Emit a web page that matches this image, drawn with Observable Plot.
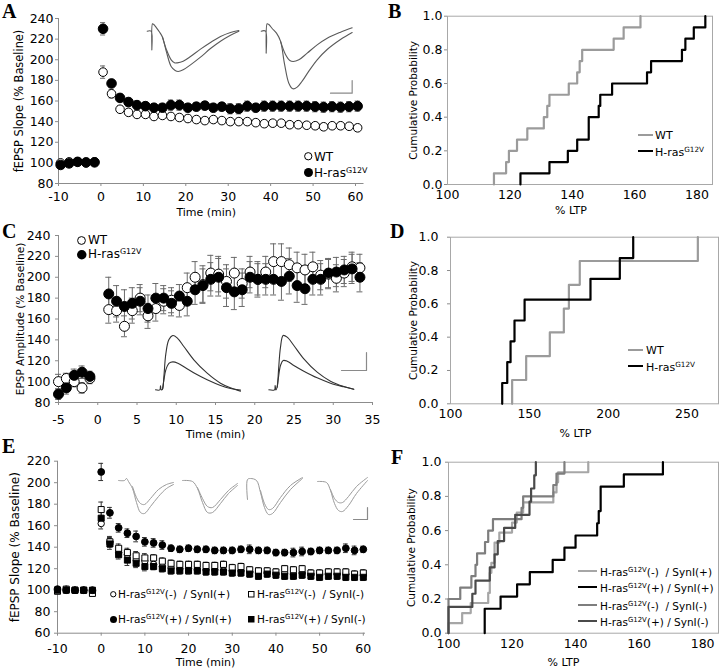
<!DOCTYPE html>
<html><head><meta charset="utf-8">
<script src="https://cdn.jsdelivr.net/npm/d3@7"></script>
<script src="https://cdn.jsdelivr.net/npm/@observablehq/plot@0.6"></script>
<style>
body{margin:0;background:#fff;}
#fig{position:relative;width:720px;height:669px;overflow:hidden;font-family:"DejaVu Sans",sans-serif;color:#000;}
.lt{position:absolute;font-family:"Liberation Serif",serif;font-weight:bold;font-size:20px;line-height:1;}
.lg{position:absolute;white-space:pre;line-height:1;transform:translateY(-50%);}
.lg sup{font-size:0.66em;line-height:0;vertical-align:0.55em;}
svg{overflow:visible;}
</style></head><body><div id="fig"></div><script>
// ---------------- DATA ----------------
// Panel A: fEPSP slope (% baseline) vs time (min)
const aTime = [-9.5,-7.5,-5.5,-3.5,-1.5,0.5,2.5,4.5,6.5,8.5,10.5,12.5,14.5,16.5,18.5,20.5,22.5,24.5,26.5,28.5,30.5,32.5,34.5,36.5,38.5,40.5,42.5,44.5,46.5,48.5,50.5,52.5,54.5,56.5,58.5,60.5];
const aWT = [100,101,101,100,101,188,167,152,149,147,147,145,146,145,144,143,142,141,142,141,140,140,140,139,138,138.5,138.5,137,137,136.5,136,135,136,136,135.5,134];
const aWTerr = [1.5,2,1.5,2,1.5,6,4,3,3,3,3,3,3,3,3,3,3,3,3,3,3,3,3,3,3,3,3,3,3,3,3,3,3,3,3,3];
const aRas = [98,99.5,101,100.5,100.5,230,177,163,159,156,155,153.5,153.5,156,156,153.5,154.5,155.5,153.5,154.5,152.5,152.5,155,153.5,155,155,155,155,155,155,154.5,154,154.5,154,154.5,155];
const aRasErr = [1.5,2,1.5,2,2,6,4,3.5,4,4,4,4,4,5,5,4,4,4,4,4,5,5,5,4,5,5,5,5,5,5,5,5,5,5,5,5];
// Panel B: cumulative distributions of % LTP
const bWT = [114.9,118.8,119.7,122.3,125.6,130.9,132,132.7,138.9,141.6,142.4,143.2,153.3,156.5,161.9];
const bRas = [123.4,132.7,138.6,141.6,145.3,145.3,148.5,149,152.8,164,165.3,175.2,176.3,179,182.7];
// Panel C: EPSP amplitude (% baseline) vs time (min)
const cTime = [-5,-4,-3,-2,-1,1.4,2.4,3.4,4.4,5.4,6.4,7.4,8.4,9.4,10.4,11.4,12.4,13.4,14.4,15.4,16.4,17.4,18.4,19.4,20.4,21.4,22.4,23.4,24.4,25.4,26.4,27.4,28.4,29.4,30.4,31.4,32.4,33.4];
const cWT = [100,103,100,94,103,169,168,153,168,180,163,170,177,178,173,190,200,193,204,203,196,204,194,205,198,205,215,215,212,209,207,210,202,203,199,204,210,209];
const cWTerr = [7,5,5,5,5,13,11,10,12,13,12,12,12,12,11,14,15,18,17,17,16,15,14,15,15,15,17,17,16,15,15,14,14,14,13,13,14,13];
const cRas = [88,94,106,109,105,184,177,172,175,177,170,180,180,175,182,177,188,192,198,200,190,186,188,200,198,198,198,196,201,192,189,198,198,204,205,207,208,200];
const cRasErr = [5,6,6,6,5,16,15,16,15,13,13,14,12,12,11,14,14,16,16,18,18,17,16,15,17,15,15,18,17,16,15,15,15,14,14,13,14,14];
// Panel D
const dWT = [139.1,148,163,171.9,175.1,182,256.9];
const dRas = [132.8,136,138.1,140.6,147,188.8,207.4,215.9];
// Panel E: fEPSP slope (% baseline), four genotypes
const eTime = [-10,-8,-6,-4,-2,0,2,4,6,8,10,12,14,16,18,20,22,24,26,28,30,32,34,36,38,40,42,44,46,48,50,52,54,56,58,60];
const eNegSyn = [100,101,100,100,99,162,145,135,133,128,127,124,122,121,120,120,119,119,119,118,118,118,117,116,116,115,116,115,116,115,115,115,115,115,114,114];
const eNegSynErr = [2,2,2,2,2,5,4,3,3,3,3,3,3,3,3,3,3,3,3,3,3,3,3,3,3,3,3,3,3,3,3,3,3,3,3,3];
const eNegNoSyn = [99,101,100,100,97,175,145,139,135,132,130,130,127,125,124,124,124,123,123,124,121,122,119,118,118,117,120,119,120,116,116,117,117,117,115,116];
const eNegNoSynErr = [2,2,2,2,2,7,5,4,4,4,4,3,3,3,3,3,3,3,3,3,3,3,3,3,3,3,3,3,3,3,3,3,3,3,3,3];
const ePosSyn = [101,100,100,100,100,210,172,158,153,150,145,144,142,139,138,139,138,138,137,137,137,138,138,137,137,135,135,135,136,136,137,137,137,139,137,138];
const ePosSynErr = [2,2,2,2,2,8,5,4,4,5,4,4,4,3,3,3,3,3,3,3,3,3,4,3,3,3,3,4,4,3,3,3,3,4,4,3];
const ePosNoSyn = [100,100,100,100,100,167,143,133,128,125,122,122,120,118,118,118,118,117,117,117,116,116,115,113,115,114,113,113,114,113,112,113,113,112,112,112];
const ePosNoSynErr = [2,2,2,2,2,6,5,4,5,4,4,3,3,3,3,3,3,3,3,3,3,3,3,3,3,3,3,3,3,3,3,3,3,3,3,3];
// Panel F
const fNegSyn = [98,104.3,107,112.5,113,113,113.5,114.5,114.5,116,120,121.5,123.5,133,134,134.5,144];
const fPosSyn = [111.4,111.4,116.4,121.6,125.6,132.8,136.5,140,146.8,147.3,147.9,147.9,155.2,167.5];
const fNegNoSyn = [97,98,99,103.7,107.2,108.5,109,111.5,112.5,114,123,123.5,133,134,136.5];
const fPosNoSyn = [98,99,107.5,108.5,113,114.5,115.5,117.5,121,125.5,126,127,127.5];
// Tick values
const aXTicks = [-10,0,10,20,30,40,50,60], aYTicks = [80,100,120,140,160,180,200,220,240];
const cXTicks = [-5,0,5,10,15,20,25,30,35], cYTicks = [80,100,120,140,160,180,200,220,240];
const eXTicks = [-10,0,10,20,30,40,50,60], eYTicks = [60,80,100,120,140,160,180,200,220];
const pTicks = [0,0.2,0.4,0.6,0.8,1.0];
const bXTicks = [100,120,140,160,180], dXTicks = [100,150,200,250], fXTicks = [100,120,140,160,180];
// Example traces (in crop-reading units)
const aTr1Out = [[20,62],[32,62],[34,118],[36,40],[40,42],[48,52],[58,66],[66,80],[78,125],[92,168],[104,180],[113,183],[128,178],[150,163],[180,140],[210,114],[240,92],[270,74],[295,62]];
const aTr1In = [[66,80],[78,118],[92,148],[102,157],[110,157],[128,152],[150,138],[180,116],[210,96],[240,78],[270,66],[295,60]];
const aTr2Out = [[362,62],[375,62],[377,128],[380,40],[385,42],[395,54],[408,68],[420,92],[432,160],[445,218],[457,235],[470,230],[485,212],[505,182],[530,148],[560,117],[600,87],[635,66]];
const aTr2In = [[420,92],[435,132],[448,150],[458,153],[475,148],[500,128],[530,103],[560,83],[600,65],[635,52]];
const aBar = [[570,248],[635,248],[635,210]];
const cTr1Up = [[45,208],[58,208],[60,196],[62,208],[66,206],[70,170],[76,100],[85,58],[97,45],[110,52],[130,78],[160,118],[200,158],[240,188],[270,202],[300,212]];
const cTr1Lo = [[66,206],[70,180],[76,148],[86,128],[97,124],[112,128],[135,142],[165,160],[200,178],[240,195],[270,204],[300,209]];
const cTr2Up = [[385,208],[402,208],[404,195],[406,208],[410,200],[414,150],[420,80],[428,45],[440,50],[460,75],[490,115],[530,155],[570,182],[610,198],[640,206]];
const cTr2Lo = [[410,200],[414,170],[420,135],[428,120],[440,122],[460,135],[490,152],[530,172],[570,188],[610,199],[640,206]];
const cBar = [[603,150],[678,150],[678,96]];
const eTr1Out = [[118,480],[124,480],[126,478],[128,481],[132,488],[136,502],[140,512],[144,513],[150,506],[158,496],[166,488],[173,484]];
const eTr1In = [[132,486],[136,497],[140,503],[144,504],[150,498],[158,489],[166,484],[173,482]];
const eTr2Out = [[182,480],[192,481],[197,488],[202,502],[207,512],[212,512],[220,503],[228,493],[237,485]];
const eTr2In = [[197,487],[202,498],[207,506],[212,507],[220,499],[228,490],[237,483]];
const eTr3Out = [[247,499],[247,479],[250,478],[256,480],[260,492],[264,507],[268,514],[272,513],[280,502],[290,489],[302,478]];
const eTr3In = [[260,490],[264,503],[268,509],[272,508],[280,497],[290,485],[302,477]];
const eTr4Out = [[317,481],[326,482],[330,490],[334,503],[338,510],[342,511],[348,505],[356,493],[367,480]];
const eTr4In = [[330,489],[334,498],[338,502],[342,502],[348,496],[356,486],[367,477]];
const eBar = [[353,519],[367,519],[367,507]];

// ---------------- DRAWING ----------------
const fig = document.getElementById("fig");
const AX = "#8c8c8c";
const STYLE = {fontFamily: "DejaVu Sans, sans-serif", fontSize: "12.5px", color: "#000", background: "transparent", overflow: "visible"};
function place(el, left, top) { el.style.position = "absolute"; el.style.left = left + "px"; el.style.top = top + "px"; fig.appendChild(el); }
const MID = {textAnchor: "middle", lineAnchor: "middle"};

function timePanel(o) {
  const marks = [
    Plot.ruleY([o.yDomain[0]], {stroke: AX}),
    Plot.ruleX([o.xDomain[0]], {stroke: AX}),
    Plot.axisY({ticks: o.yTicks, tickSize: o.yTS, tickPadding: o.yTP, stroke: AX, tickFormat: d => String(d), label: null}),
    Plot.axisX({ticks: o.xTicks, tickSize: o.xTS, tickPadding: o.xTP, stroke: AX, tickFormat: d => String(d), label: null}),
    Plot.text([o.ylabel], {text: d => d, frameAnchor: "left", dx: -o.ylOff, rotate: -90, fontSize: o.ylFont, ...MID}),
    Plot.text([o.xlabel], {text: d => d, frameAnchor: "bottom", dx: o.xlDx, dy: o.xlOff, fontSize: o.xlFont, ...MID})
  ];
  const rowsList = o.series.map(s => o.time.map((t, i) => ({t, v: s.v[i], e: s.e[i]})));
  rowsList.forEach(rows => {
    marks.push(Plot.ruleX(rows, {x: "t", y1: d => d.v - d.e, y2: d => d.v + d.e, stroke: o.errColor, strokeWidth: 1}));
    marks.push(Plot.ruleY(rows, {y: d => d.v + d.e, x1: d => d.t - o.cap, x2: d => d.t + o.cap, stroke: o.errColor, strokeWidth: 1}));
    marks.push(Plot.ruleY(rows, {y: d => d.v - d.e, x1: d => d.t - o.cap, x2: d => d.t + o.cap, stroke: o.errColor, strokeWidth: 1}));
  });
  o.series.forEach((s, k) => {
    marks.push(Plot.dot(rowsList[k], {x: "t", y: "v", r: s.r, symbol: s.symbol || "circle", fill: s.fill, stroke: "#000", strokeWidth: 1}));
  });
  const svg = Plot.plot({
    width: o.w, height: o.h, marginLeft: o.mL, marginRight: o.mR, marginTop: o.mT, marginBottom: o.mB,
    x: {domain: o.xDomain}, y: {domain: o.yDomain}, style: STYLE, marks
  });
  place(svg, o.left, o.top);
}

function cdfPoints(vals) {
  const n = vals.length;
  const pts = [{x: vals[0], y: 0}];
  vals.forEach((v, i) => pts.push({x: i < n - 1 ? vals[i + 1] : vals[n - 1], y: (i + 1) / n}));
  return pts;
}

function cdfPanel(o) {
  const marks = [
    Plot.frame({stroke: "#a8a8a8"}),
    Plot.axisY({ticks: pTicks, tickSize: o.yTS, tickPadding: o.yTP, stroke: AX, tickFormat: d => d.toFixed(1), label: null}),
    Plot.axisX({ticks: o.xTicks, tickSize: 0, tickPadding: o.xTP, tickFormat: d => String(d), label: null}),
    Plot.text(["Cumulative Probability"], {text: d => d, frameAnchor: "left", dx: -o.ylOff, rotate: -90, fontSize: 10.5, ...MID}),
    Plot.text(["% LTP"], {text: d => d, frameAnchor: "bottom", dx: o.xlDx, dy: o.xlOff, fontSize: 11, ...MID})
  ];
  o.series.forEach(s => marks.push(Plot.line(cdfPoints(s.v), {x: "x", y: "y", curve: "step-before", stroke: s.color, strokeWidth: 2.2})));
  const svg = Plot.plot({
    width: o.w, height: o.h, marginLeft: o.mL, marginRight: o.mR, marginTop: o.mT, marginBottom: o.mB,
    x: {domain: o.xDomain, clamp: true}, y: {domain: [0, 1]}, style: STYLE, marks
  });
  place(svg, o.left, o.top);
}

function traceLayer(left, top, w, h, xd, yd, lines, bar, color, sw) {
  const marks = lines.map(l => Plot.line(l, {x: d => d[0], y: d => d[1], stroke: color, strokeWidth: sw, curve: "catmull-rom"}));
  marks.push(Plot.line(bar, {x: d => d[0], y: d => d[1], stroke: "#8a8a8a", strokeWidth: 1.2}));
  const svg = Plot.plot({width: w, height: h, margin: 0, x: {domain: xd, range: [0, w], axis: null}, y: {domain: yd, range: [0, h], axis: null}, style: STYLE, marks});
  place(svg, left, top);
}

// Panel A
timePanel({left: 0, top: 0, w: 370, h: 220, mL: 58, mR: 6.5, mT: 18, mB: 37,
  xDomain: [-10, 62], yDomain: [80, 240], xTicks: aXTicks, yTicks: aYTicks,
  yTS: 3, yTP: 2, xTS: 3, xTP: 6, ylabel: "fEPSP Slope (% Baseline)", ylOff: 39, ylFont: 11.4,
  xlabel: "Time (min)", xlOff: 29, xlDx: -5, xlFont: 11, errColor: "#6e6e6e", cap: 0.6, time: aTime,
  series: [{v: aWT, e: aWTerr, fill: "#fff", r: 4.3}, {v: aRas, e: aRasErr, fill: "#000", r: 4.8}]});
// Panel C
timePanel({left: 0, top: 220, w: 380, h: 230, mL: 58, mR: 8, mT: 15, mB: 48,
  xDomain: [-5, 35], yDomain: [80, 240], xTicks: cXTicks, yTicks: cYTicks,
  yTS: 3, yTP: 5, xTS: 3, xTP: 10, ylabel: "EPSP Amplitude (% Baseline)", ylOff: 38, ylFont: 10.5,
  xlabel: "Time (min)", xlOff: 32, xlDx: 0, xlFont: 11, errColor: "#6a6a6a", cap: 0.38, time: cTime,
  series: [{v: cWT, e: cWTerr, fill: "#fff", r: 5}, {v: cRas, e: cRasErr, fill: "#000", r: 5}]});
// Panel E
timePanel({left: 0, top: 440, w: 375, h: 229, mL: 57, mR: 10, mT: 20.7, mB: 36.3,
  xDomain: [-10, 60.5], yDomain: [60, 220], xTicks: eXTicks, yTicks: eYTicks,
  yTS: 3, yTP: 4, xTS: 3, xTP: 8, ylabel: "fEPSP Slope (% Baseline)", ylOff: 42, ylFont: 12,
  xlabel: "Time (min)", xlOff: 29, xlDx: -6, xlFont: 11, errColor: "#333", cap: 0.55, time: eTime,
  series: [
    {v: eNegSyn, e: eNegSynErr, fill: "#fff", r: 3.2},
    {v: eNegNoSyn, e: eNegNoSynErr, fill: "#fff", r: 3.4, symbol: "square"},
    {v: ePosSyn, e: ePosSynErr, fill: "#000", r: 3.4},
    {v: ePosNoSyn, e: ePosNoSynErr, fill: "#000", r: 3.4, symbol: "square"}]});

// Panel B
cdfPanel({left: 360, top: 0, w: 360, h: 220, mL: 87, mR: 8, mT: 15.7, mB: 36,
  xDomain: [100, 185], xTicks: bXTicks, yTS: 3, yTP: 2, xTP: 6, ylOff: 34, xlDx: -9, xlOff: 26,
  series: [{v: bWT, color: "#9b9b9b"}, {v: bRas, color: "#000"}]});
// Panel D
cdfPanel({left: 360, top: 220, w: 360, h: 230, mL: 90, mR: 2, mT: 16.7, mB: 46.7,
  xDomain: [100, 270], xTicks: dXTicks, yTS: 3, yTP: 9, xTP: 5, ylOff: 37, xlDx: -9, xlOff: 30,
  series: [{v: dWT, color: "#9b9b9b"}, {v: dRas, color: "#000"}]});
// Panel F
cdfPanel({left: 360, top: 440, w: 360, h: 229, mL: 88, mR: 2, mT: 21.7, mB: 36.3,
  xDomain: [100, 185], xTicks: fXTicks, yTS: 3, yTP: 4, xTP: 6, ylOff: 37, xlDx: -20, xlOff: 29,
  series: [{v: fNegSyn, color: "#a6a6a6"}, {v: fNegNoSyn, color: "#7e7e7e"}, {v: fPosNoSyn, color: "#4a4a4a"}, {v: fPosSyn, color: "#000"}]});

// Inset traces
traceLayer(140, 10, 230, 85, [0, 690], [0, 255], [aTr1Out, aTr1In, aTr2Out, aTr2In], aBar, "#5a5a5a", 1.1);
traceLayer(140, 320, 240, 75, [0, 720], [0, 225], [cTr1Up, cTr1Lo, cTr2Up, cTr2Lo], cBar, "#333", 1.1);
traceLayer(100, 465, 280, 60, [100, 380], [465, 525], [eTr1Out, eTr1In, eTr2Out, eTr2In, eTr3Out, eTr3In, eTr4Out, eTr4In], eBar, "#9a9a9a", 1);

// Panel letters
[["A", 2, 0.5], ["B", 388, 0.5], ["C", 2, 220.5], ["D", 390, 220.5], ["E", 2, 435.7], ["F", 391, 447]].forEach(([t, x, y]) => {
  const d = document.createElement("div"); d.className = "lt"; d.textContent = t; place(d, x, y);
});

// Legends
const RAS = "H-ras<sup>G12V</sup>";
function sym(kind, cx, cy, size) {
  const s = size, h = s / 2;
  let inner = "";
  if (kind === "oc") inner = `<circle cx="${h}" cy="${h}" r="${h - 0.6}" fill="#fff" stroke="#000" stroke-width="1"/>`;
  if (kind === "fc") inner = `<circle cx="${h}" cy="${h}" r="${h}" fill="#000"/>`;
  if (kind === "os") inner = `<rect x="0.5" y="0.5" width="${s - 1}" height="${s - 1}" fill="#fff" stroke="#000" stroke-width="1"/>`;
  if (kind === "fs") inner = `<rect x="0" y="0" width="${s}" height="${s}" fill="#000"/>`;
  const d = document.createElement("div");
  d.innerHTML = `<svg width="${s}" height="${s}" style="display:block">${inner}</svg>`;
  place(d, cx - h, cy - h);
}
function seg(color, x1, x2, cy, w) {
  const d = document.createElement("div");
  d.style.width = (x2 - x1) + "px"; d.style.height = "0"; d.style.borderTop = `${w}px solid ${color}`;
  place(d, x1, cy - w / 2);
}
function txt(html, x, cy, fs) {
  const d = document.createElement("div"); d.className = "lg"; d.style.fontSize = fs + "px"; d.innerHTML = html; place(d, x, cy);
}
// A legend
sym("oc", 308, 156.7, 8.5); txt("WT", 314, 157, 12);
sym("fc", 308, 172.7, 9); txt(RAS, 314, 173, 12);
// B legend
seg("#9b9b9b", 638, 653, 135, 2.5); txt("WT", 655, 135, 11);
seg("#000", 638, 653, 151.7, 2.5); txt(RAS, 655, 151.7, 11);
// C legend
sym("oc", 81.7, 240, 9); txt("WT", 88, 240, 12);
sym("fc", 81.7, 254.3, 9.5); txt(RAS, 88, 254.3, 12);
// D legend
seg("#9b9b9b", 628, 643, 350, 2.5); txt("WT", 646, 350, 11);
seg("#000", 628, 643, 366.7, 2.5); txt(RAS, 646, 366.7, 11);
// E legend
sym("oc", 113.3, 594, 6.5); txt(RAS + "(-)  / SynI(+)", 118, 594, 10.5);
sym("os", 251.7, 594, 6.5); txt(RAS + "(-)  / SynI(-)", 257, 594, 10.5);
sym("fc", 113.3, 619, 7); txt(RAS + "(+) / SynI(+)", 118, 619, 10.5);
sym("fs", 251.7, 619, 6.5); txt(RAS + "(+) / SynI(-)", 257, 619, 10.5);
// F legend
const fLeg = [["#a6a6a6", "(-)  / SynI(+)", 571.7], ["#000", "(+) / SynI(+)", 587.7], ["#7e7e7e", "(-)  / SynI(-)", 605.7], ["#4a4a4a", "(+) / SynI(-)", 621.7]];
fLeg.forEach(([c, t, y]) => { seg(c, 578, 597, y, 2.5); txt(RAS + t, 600, y, 10.5); });
</script></body></html>
